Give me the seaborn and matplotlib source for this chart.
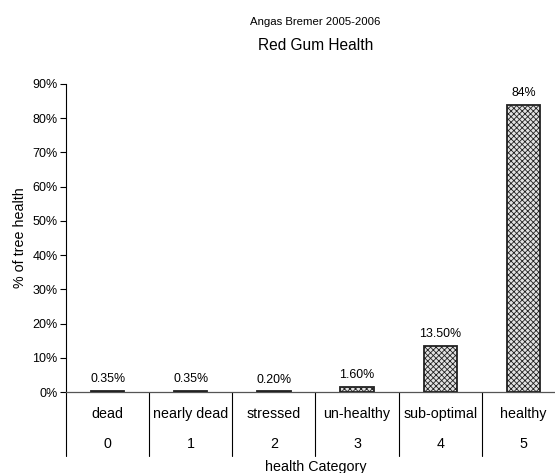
import matplotlib
matplotlib.use("Agg")
import matplotlib.pyplot as plt
import matplotlib.transforms as mtransforms
import seaborn as sns
import pandas as pd

# Survey results: share of red gums in each health class
categories = ["dead", "nearly dead", "stressed", "un-healthy", "sub-optimal", "healthy"]
codes = ["0", "1", "2", "3", "4", "5"]
percent = [0.35, 0.35, 0.20, 1.60, 13.50, 84.0]
value_labels = ["0.35%", "0.35%", "0.20%", "1.60%", "13.50%", "84%"]
yticks = [0, 10, 20, 30, 40, 50, 60, 70, 80, 90]

sns.set_theme(style="white")
plt.rcParams["font.family"] = ["Liberation Sans", "DejaVu Sans"]
plt.rcParams["text.color"] = "black"
plt.rcParams["axes.labelcolor"] = "black"
plt.rcParams["ytick.color"] = "black"
plt.rcParams["hatch.color"] = "#a8a8a8"
plt.rcParams["hatch.linewidth"] = 0.6

df = pd.DataFrame({"category": categories, "percent": percent})

fig = plt.figure(figsize=(5.55, 4.73), dpi=100)
W, H = 555, 473
x0, x1, y0, y1 = 66, 565, 392, 84
ax = fig.add_axes([x0 / W, (H - y0) / H, (x1 - x0) / W, (y0 - y1) / H])

sns.barplot(data=df, x="category", y="percent", ax=ax, width=0.4,
            color="#e2e2e2", edgecolor="#222222", linewidth=1.3, saturation=1)
for p in ax.patches:
    p.set_hatch("xxxxxx")
    p.set_zorder(3)

ax.set_xlim(-0.5, 5.5)
ax.set_ylim(0, 90)
ax.set_yticks(yticks)
ax.set_yticklabels([f"{t}%" for t in yticks], fontsize=9)
ax.tick_params(axis="y", direction="out", length=4, width=0.8, color="black",
               left=True, pad=2)
ax.set_xticks([])
ax.set_xlabel("")
ax.set_ylabel("% of tree health", fontsize=10.3, labelpad=4)

for s in ["top", "right"]:
    ax.spines[s].set_visible(False)
ax.spines["left"].set_color("black")
ax.spines["left"].set_linewidth(0.8)
ax.spines["bottom"].set_color("#555555")
ax.spines["bottom"].set_linewidth(0.9)

# bar value labels
for i, (v, lab) in enumerate(zip(percent, value_labels)):
    ax.annotate(lab, (i, v), xytext=(0, 4), textcoords="offset points",
                ha="center", va="bottom", fontsize=8.9)

# two-level category axis
tr = mtransforms.blended_transform_factory(ax.transData, ax.transAxes)
axh = y0 - y1
for i, (name, code) in enumerate(zip(categories, codes)):
    ax.text(i, -(414 - y0) / axh, name, transform=tr, ha="center", va="center",
            fontsize=10.3)
    ax.text(i, -(444 - y0) / axh, code, transform=tr, ha="center", va="center",
            fontsize=10.3)
for b in [-0.5, 0.5, 1.5, 2.5, 3.5, 4.5, 5.5]:
    ax.plot([b, b], [0, -(456 - y0) / axh], transform=tr, color="black",
            lw=0.8, clip_on=False)

ax.text(2.5, -(467 - y0) / axh, "health Category", transform=tr,
        ha="center", va="center", fontsize=10.3)

fig.text((x0 + x1) / 2 / W, 1 - 22 / H, "Angas Bremer 2005-2006",
         ha="center", va="center", fontsize=8.2)
fig.text((x0 + x1) / 2 / W, 1 - 45 / H, "Red Gum Health",
         ha="center", va="center", fontsize=11.2)

fig.savefig("out.png", dpi=100)
